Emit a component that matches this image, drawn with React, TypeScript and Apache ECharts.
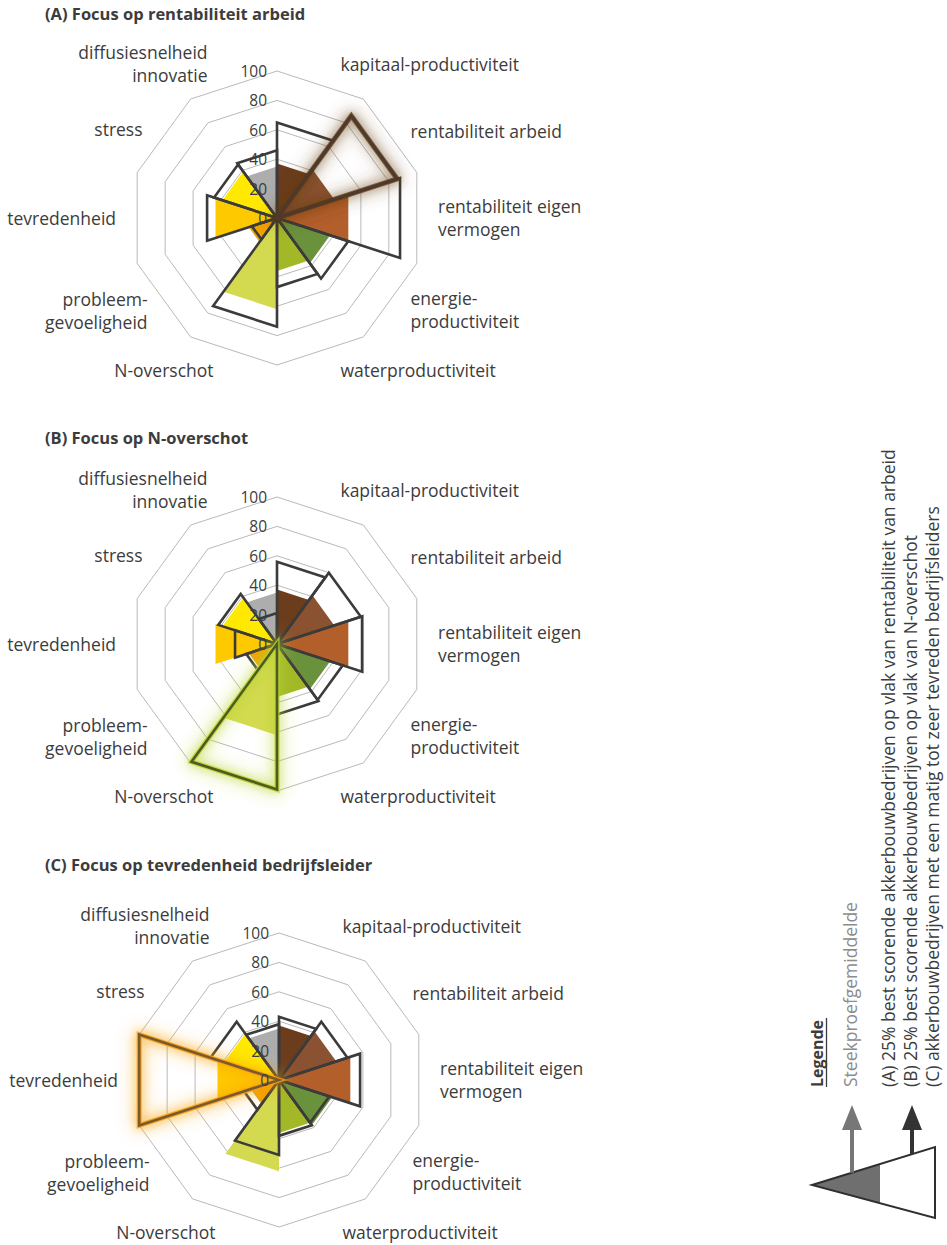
import React, { useEffect, useRef } from 'react';
import * as echarts from 'echarts';

// ---------- data ----------
const categories = [
  'kapitaal-productiviteit',
  'rentabiliteit arbeid',
  'rentabiliteit eigen\nvermogen',
  'energie-\nproductiviteit',
  'waterproductiviteit',
  'N-overschot',
  'probleem-\ngevoeligheid',
  'tevredenheid',
  'stress',
  'diffusiesnelheid\ninnovatie',
];
const sampleMean = [37, 41, 51, 38, 36, 62, 20, 44, 39, 35];
const focusA = [65, 86, 88, 51, 47, 74, 18, 50, 45, 46];
const focusB = [56, 60, 61, 47, 48, 99, 22, 30, 42, 21];
const focusC = [43, 49, 58, 36, 38, 51, 25, 100, 49, 38];
const radialTicks = [0, 20, 40, 60, 80, 100];
const titles = [
  '(A) Focus op rentabiliteit arbeid',
  '(B) Focus op N-overschot',
  '(C) Focus op tevredenheid bedrijfsleider',
];
const focusIndex = [1, 5, 7];
const legendTitle = 'Legende';
const legendMean = 'Steekproefgemiddelde';
const legendLines = [
  '(A) 25% best scorende akkerbouwbedrijven op vlak van rentabiliteit van arbeid',
  '(B) 25% best scorende akkerbouwbedrijven op vlak van N-overschot',
  '(C) akkerbouwbedrijven met een matig tot zeer tevreden bedrijfsleiders',
];

// ---------- styles ----------
const sectorColors = [
  '#6b3d1d', '#8a5230', '#b35f2b', '#6a913b', '#a2b827',
  '#d3da50', '#f1a200', '#ffc900', '#ffe900', '#adadad',
];
const focusStyles = [
  { stroke: '#4a3a30', glow: 'rgba(95,55,25,0.9)' },
  { stroke: '#4f5b22', glow: 'rgba(185,212,50,1)' },
  { stroke: '#7a5a2c', glow: 'rgba(248,160,20,1)' },
];
const centers = [[277, 218], [277, 644], [279, 1080]];
const titleY = [13, 437, 864];
const RADIUS = 147;
const TEXT = '#3c3c3c';
const FONT = '"Open Sans", "Noto Sans", sans-serif';
const LEG_BOTTOM = 1087;
const labelPos = [
  { dx: 14, dy: -2, align: 'left' },
  { dx: 4, dy: 7, align: 'left' },
  { dx: 1, dy: -1, align: 'left' },
  { dx: 4, dy: -3, align: 'left' },
  { dx: 14, dy: 0, align: 'left' },
  { dx: -14, dy: 0, align: 'right' },
  { dx: 0, dy: -2, align: 'right' },
  { dx: -1, dy: 0, align: 'right' },
  { dx: -5, dy: 5, align: 'right' },
  { dx: -20, dy: -2, align: 'right' },
];

function buildSeries(pi: number, focus: number[]) {
  const fi = focusIndex[pi];
  const fs = focusStyles[pi];
  const ringValues = radialTicks.filter((v) => v > 0);
  const series: any[] = [];
  series.push({
    type: 'custom',
    coordinateSystem: 'polar',
    polarIndex: pi,
    silent: true,
    z: 1,
    data: ringValues.map((v) => [v, 0]),
    renderItem: (params: any, api: any) => {
      const v = ringValues[params.dataIndex];
      const pts = [];
      for (let k = 0; k < 10; k++) pts.push(api.coord([v, k * 36]));
      return {
        type: 'polygon',
        shape: { points: pts },
        style: { fill: 'none', stroke: '#b9b9b9', lineWidth: 1 },
      };
    },
  });
  series.push({
    type: 'custom',
    coordinateSystem: 'polar',
    polarIndex: pi,
    silent: true,
    z: 2,
    data: sampleMean.map((v, i) => [v, i * 36 + 18]),
    renderItem: (params: any, api: any) => {
      const i = params.dataIndex;
      const v = sampleMean[i];
      const c = api.coord([0, 0]);
      return {
        type: 'polygon',
        shape: { points: [c, api.coord([v, i * 36]), api.coord([v, (i + 1) * 36])] },
        style: { fill: sectorColors[i], stroke: 'none' },
      };
    },
  });
  series.push({
    type: 'custom',
    coordinateSystem: 'polar',
    polarIndex: pi,
    silent: true,
    z: 3,
    data: focus.map((v, i) => [v, i * 36 + 18]),
    renderItem: (params: any, api: any) => {
      const i = params.dataIndex;
      const v = focus[i];
      const c = api.coord([0, 0]);
      const pts = [c, api.coord([v, i * 36]), api.coord([v, (i + 1) * 36])];
      if (i !== fi) {
        return {
          type: 'polygon',
          z2: 1,
          shape: { points: pts },
          style: { fill: 'none', stroke: '#3b3b3b', lineWidth: 2.6, lineJoin: 'miter' },
        };
      }
      return {
        type: 'group',
        children: [
          {
            type: 'polygon',
            z2: 8,
            shape: { points: pts },
            style: { fill: 'none', stroke: fs.glow, lineWidth: 5, lineJoin: 'miter', shadowBlur: 18, shadowColor: fs.glow, opacity: 0.85 },
          },
          {
            type: 'polygon',
            z2: 9,
            shape: { points: pts },
            style: { fill: 'none', stroke: fs.glow, lineWidth: 3, lineJoin: 'miter', shadowBlur: 10, shadowColor: fs.glow },
          },
          {
            type: 'polygon',
            z2: 10,
            shape: { points: pts },
            style: { fill: 'none', stroke: fs.stroke, lineWidth: 2.6, lineJoin: 'miter' },
          },
        ],
      };
    },
  });
  series.push({
    type: 'custom',
    coordinateSystem: 'polar',
    polarIndex: pi,
    silent: true,
    z: 5,
    data: radialTicks.map((v) => [v, 0]),
    renderItem: (params: any, api: any) => {
      const v = radialTicks[params.dataIndex];
      const p = api.coord([v, 0]);
      return {
        type: 'text',
        x: p[0] - 10,
        y: p[1],
        style: { text: String(v), fill: TEXT, fontSize: 15.5, fontFamily: FONT, align: 'right', verticalAlign: 'middle' },
      };
    },
  });
  series.push({
    type: 'custom',
    coordinateSystem: 'polar',
    polarIndex: pi,
    silent: true,
    z: 5,
    data: categories.map((c, i) => [100, i * 36 + 18]),
    renderItem: (params: any, api: any) => {
      const i = params.dataIndex;
      const c = api.coord([0, 0]);
      const p = api.coord([100, i * 36 + 18]);
      const f = 160 / RADIUS;
      const lp = labelPos[i];
      return {
        type: 'text',
        x: c[0] + (p[0] - c[0]) * f + lp.dx,
        y: c[1] + (p[1] - c[1]) * f + lp.dy,
        style: {
          text: categories[i],
          fill: TEXT,
          fontSize: 17.5,
          lineHeight: 23,
          fontFamily: FONT,
          align: lp.align,
          verticalAlign: 'middle',
        },
      };
    },
  });
  return series;
}

export default function App() {
  const ref = useRef<HTMLDivElement>(null);
  useEffect(() => {
    if (!ref.current) return;
    const chart = echarts.init(ref.current, undefined, { renderer: 'svg' });
    const focusSets = [focusA, focusB, focusC];
    const hidden = {
      axisLine: { show: false },
      axisTick: { show: false },
      axisLabel: { show: false },
      splitLine: { show: false },
      splitArea: { show: false },
    };
    const graphics: any[] = [];
    titles.forEach((t, i) => {
      graphics.push({
        type: 'text',
        x: 45,
        y: titleY[i],
        style: { text: t, fill: TEXT, font: `bold 16.5px ${FONT}`, align: 'left', verticalAlign: 'middle' },
      });
    });
    graphics.push({
      type: 'text',
      x: 817,
      y: LEG_BOTTOM,
      rotation: Math.PI / 2,
      style: { text: legendTitle, fill: TEXT, font: `bold 16px ${FONT}`, align: 'left', verticalAlign: 'middle' },
    });
    graphics.push({
      type: 'line',
      shape: { x1: 826.5, y1: LEG_BOTTOM - 69, x2: 826.5, y2: LEG_BOTTOM },
      style: { stroke: TEXT, lineWidth: 1.3 },
    });
    graphics.push({
      type: 'text',
      x: 850,
      y: LEG_BOTTOM,
      rotation: Math.PI / 2,
      style: { text: legendMean, fill: '#8c8c8c', font: `17.5px ${FONT}`, align: 'left', verticalAlign: 'middle' },
    });
    legendLines.forEach((t, i) => {
      graphics.push({
        type: 'text',
        x: 888 + i * 22,
        y: LEG_BOTTOM,
        rotation: Math.PI / 2,
        style: { text: t, fill: TEXT, font: `17.5px ${FONT}`, align: 'left', verticalAlign: 'middle' },
      });
    });
    // legend icon
    const apex = [812, 1185];
    const rt = [935, 1147];
    const rb = [935, 1218];
    const splitX = 880;
    const tAt = (x: number) => apex[1] + (rt[1] - apex[1]) * (x - apex[0]) / (rt[0] - apex[0]);
    const bAt = (x: number) => apex[1] + (rb[1] - apex[1]) * (x - apex[0]) / (rb[0] - apex[0]);
    graphics.push({
      type: 'polygon',
      shape: { points: [apex, rt, rb] },
      style: { fill: '#ffffff', stroke: 'none' },
    });
    graphics.push({
      type: 'polygon',
      shape: { points: [apex, [splitX, tAt(splitX)], [splitX, bAt(splitX)]] },
      style: { fill: '#6f6f6f', stroke: 'none' },
    });
    graphics.push({
      type: 'polygon',
      shape: { points: [apex, rt, rb] },
      style: { fill: 'none', stroke: '#2f2f2f', lineWidth: 2 },
    });
    // arrows
    const tip = 1105;
    graphics.push({ type: 'line', shape: { x1: 852, y1: tAt(852), x2: 852, y2: tip + 20 }, style: { stroke: '#777777', lineWidth: 4 } });
    graphics.push({ type: 'polygon', shape: { points: [[852, tip], [842, tip + 25], [862, tip + 25]] }, style: { fill: '#777777' } });
    graphics.push({ type: 'line', shape: { x1: 912, y1: tAt(912), x2: 912, y2: tip + 20 }, style: { stroke: '#333333', lineWidth: 4 } });
    graphics.push({ type: 'polygon', shape: { points: [[912, tip], [902, tip + 25], [922, tip + 25]] }, style: { fill: '#333333' } });

    chart.setOption({
      animation: false,
      backgroundColor: '#ffffff',
      polar: centers.map((c) => ({ center: c, radius: RADIUS })),
      angleAxis: centers.map((c, i) => ({
        polarIndex: i,
        type: 'value',
        min: 0,
        max: 360,
        startAngle: 90,
        clockwise: true,
        ...hidden,
      })),
      radiusAxis: centers.map((c, i) => ({
        polarIndex: i,
        type: 'value',
        min: 0,
        max: 100,
        ...hidden,
      })),
      series: [
        ...buildSeries(0, focusSets[0]),
        ...buildSeries(1, focusSets[1]),
        ...buildSeries(2, focusSets[2]),
      ],
      graphic: graphics,
    });
    return () => chart.dispose();
  }, []);
  return (
    <div
      ref={ref}
      style={{ position: 'absolute', left: 0, top: 0, width: 947, height: 1245 }}
    />
  );
}
